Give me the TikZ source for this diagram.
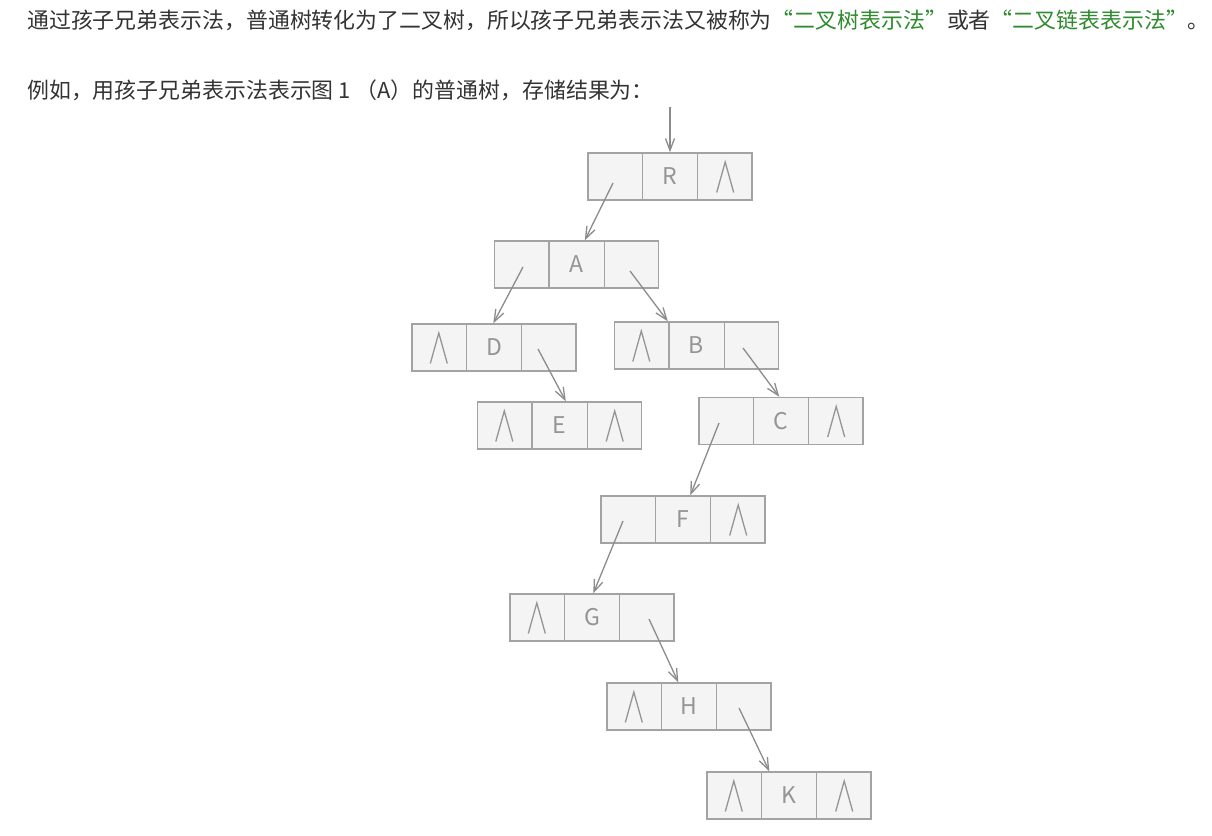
\documentclass[tikz,border=0pt]{standalone}
\usepackage{fontspec}
\setmainfont{Noto Sans CJK SC}
\usetikzlibrary{arrows.meta,calc}
\definecolor{txt}{HTML}{333333}
\definecolor{grn}{HTML}{2E8B2E}
\definecolor{boxfill}{HTML}{F4F4F4}
\definecolor{boxline}{HTML}{A3A3A3}
\definecolor{lbl}{HTML}{959595}
\definecolor{arrc}{HTML}{8C8C8C}
\newcommand\mkrec[4]{%
  \node[rec] (#1) at (#2,#3) {#4};
  \draw[divst] ($(#1.north west)+(55,0)$) -- ($(#1.south west)+(55,0)$);
  \draw[divst] ($(#1.north east)+(-55,0)$) -- ($(#1.south east)+(-55,0)$);
}
\newcommand\nullL[1]{\draw[nullst] ($(#1.west)+(19,16)$) -- ($(#1.west)+(27.5,-14.5)$) -- ($(#1.west)+(36,16)$);}
\newcommand\nullR[1]{\draw[nullst] ($(#1.east)+(-36,16)$) -- ($(#1.east)+(-27.5,-14.5)$) -- ($(#1.east)+(-19,16)$);}
\begin{document}
\begin{tikzpicture}[x=1pt,y=-1pt,
  rec/.style={draw=boxline, fill=boxfill, line width=1.4pt, minimum width=164pt, minimum height=47pt, inner sep=0pt, text=lbl, font=\fontsize{23}{23}\selectfont},
  divst/.style={draw=boxline, line width=1.4pt},
  nullst/.style={draw=lbl, line width=1.3pt, line join=miter},
  arr/.style={draw=arrc, line width=1.3pt, -{Straight Barb[length=12pt,width=9pt]}},
  para/.style={anchor=west, inner sep=0pt, text=txt, font=\fontsize{21.9}{22}\selectfont}]
\useasboundingbox[fill=white] (0,0) rectangle (1212,835);

\node[para] (t1) at (27,20) {通过孩子兄弟表示法，普通树转化为了二叉树，所以孩子兄弟表示法又被称为\textcolor{grn}{“二叉树表示法”}或者\textcolor{grn}{“二叉链表表示法”}。};
\node[para] (t2) at (27,90) {例如，用孩子兄弟表示法表示图 1 （A）的普通树，存储结果为：};

\mkrec{R}{670}{176.5}{R}
\mkrec{A}{576.5}{264.5}{A}
\mkrec{D}{494}{347.5}{D}
\mkrec{B}{696.5}{345.5}{B}
\mkrec{E}{559.5}{425.5}{E}
\mkrec{C}{781}{421}{C}
\mkrec{F}{683}{519.5}{F}
\mkrec{G}{592}{617.5}{G}
\mkrec{H}{689}{706.5}{H}
\mkrec{K}{789}{795.5}{K}

\nullR{R}
\nullL{D}
\nullL{B}
\nullL{E}\nullR{E}
\nullR{C}
\nullR{F}
\nullL{G}
\nullL{H}
\nullL{K}\nullR{K}

\coordinate (in) at (670,107);
\coordinate (Rp) at (613,183);
\coordinate (Al) at (523,267);
\coordinate (Ar) at (630,271);
\coordinate (Dr) at (538,349);
\coordinate (Br) at (743,348);
\coordinate (Cl) at (719,423);
\coordinate (Fl) at (623,521);
\coordinate (Gr) at (649,619);
\coordinate (Hr) at (739,708);

\draw[arr] (in) -- (R.north);
\draw[arr] (Rp) -- ($(A.north west)+(91,0)$);
\draw[arr] (Al) -- ($(D.north west)+(82,0)$);
\draw[arr] (Ar) -- ($(B.north west)+(54,0)$);
\draw[arr] (Dr) -- ($(E.north west)+(89,0)$);
\draw[arr] (Br) -- ($(C.north west)+(81,0)$);
\draw[arr] (Cl) -- ($(F.north west)+(90,0)$);
\draw[arr] (Fl) -- ($(G.north west)+(84,0)$);
\draw[arr] (Gr) -- ($(H.north west)+(72,0)$);
\draw[arr] (Hr) -- ($(K.north west)+(63,0)$);
\end{tikzpicture}
\end{document}
